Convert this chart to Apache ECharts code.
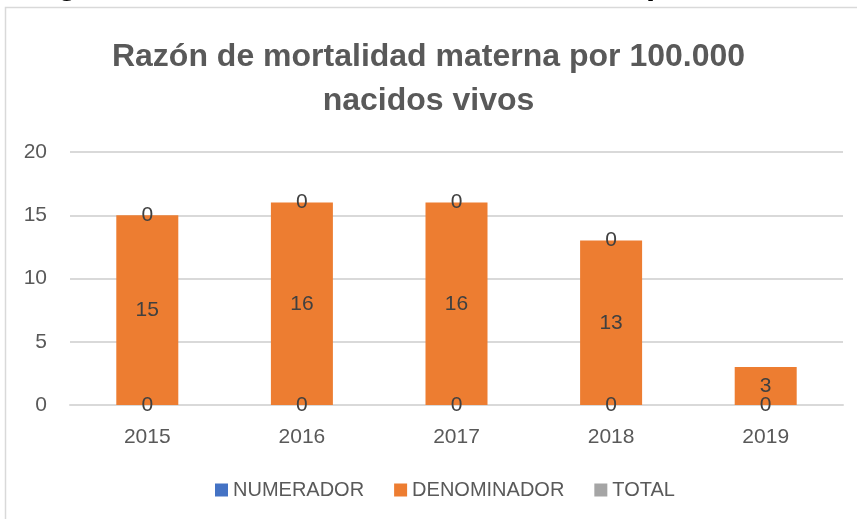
<!DOCTYPE html>
<html>
<head>
<meta charset="utf-8">
<script src="https://cdn.jsdelivr.net/npm/echarts@6/dist/echarts.min.js"></script>
<style>
html,body{margin:0;padding:0;background:#fff;}
#chart{width:857px;height:519px;}
</style>
</head>
<body>
<div id="chart"></div>
<script>
// datos del grafico
var years = ['2015', '2016', '2017', '2018', '2019'];
var numerador = [0, 0, 0, 0, 0];
var denominador = [15, 16, 16, 13, 3];
var total = [0, 0, 0, 0, null];
var yTicks = [0, 5, 10, 15, 20];

var font = '"Liberation Sans", Arial, sans-serif';
var labelStyle = {
	show: true,
	position: 'inside',
	color: '#404040',
	fontSize: 21,
	fontFamily: font
};

var myChart = echarts.init(document.getElementById('chart'));
var option = {
	backgroundColor: '#fff',
	animation: false,
	graphic: [
		{
			// encabezado del documento, cortado arriba
			type: 'text',
			x: 28,
			y: 1,
			style: {
				text: 'Figura 9. Razón de mortalidad materna por 100.000 nacidos vivos',
				font: 'bold 33px "Liberation Sans", Arial, sans-serif',
				fill: '#000',
				verticalAlign: 'bottom'
			}
		},
		{
			type: 'rect',
			shape: {x: 5.5, y: 7.5, width: 900, height: 600},
			style: {fill: 'none', stroke: '#D9D9D9', lineWidth: 1.5}
		}
	],
	title: {
		text: 'Razón de mortalidad materna por 100.000\nnacidos vivos',
		left: 'center',
		top: 30,
		textStyle: {
			color: '#595959',
			fontSize: 32,
			fontWeight: 'bold',
			fontFamily: font,
			lineHeight: 44
		}
	},
	legend: {
		bottom: 14,
		left: 210,
		itemWidth: 13,
		itemHeight: 13,
		itemGap: 30,
		icon: 'rect',
		textStyle: {color: '#595959', fontSize: 20, fontFamily: font},
		data: ['NUMERADOR', 'DENOMINADOR', 'TOTAL']
	},
	grid: {left: 70, right: 14, top: 152, bottom: 114},
	xAxis: {
		type: 'category',
		data: years,
		axisLine: {lineStyle: {color: '#D9D9D9', width: 2}},
		axisTick: {show: false},
		axisLabel: {color: '#595959', fontSize: 21, fontFamily: font, margin: 22}
	},
	yAxis: {
		type: 'value',
		min: yTicks[0],
		max: yTicks[yTicks.length - 1],
		interval: 5,
		axisLine: {show: false},
		axisTick: {show: false},
		splitLine: {lineStyle: {color: '#D9D9D9', width: 2}},
		axisLabel: {color: '#595959', fontSize: 21, fontFamily: font, margin: 23}
	},
	series: [
		{
			name: 'NUMERADOR',
			type: 'bar',
			stack: 'a',
			barWidth: 62,
			itemStyle: {color: '#4472C4'},
			label: labelStyle,
			data: numerador
		},
		{
			name: 'DENOMINADOR',
			type: 'bar',
			stack: 'a',
			barWidth: 62,
			itemStyle: {color: '#ED7D31'},
			label: labelStyle,
			data: denominador
		},
		{
			name: 'TOTAL',
			type: 'bar',
			stack: 'a',
			barWidth: 62,
			itemStyle: {color: '#A5A5A5'},
			label: labelStyle,
			data: total
		}
	]
};
myChart.setOption(option);
</script>
</body>
</html>
